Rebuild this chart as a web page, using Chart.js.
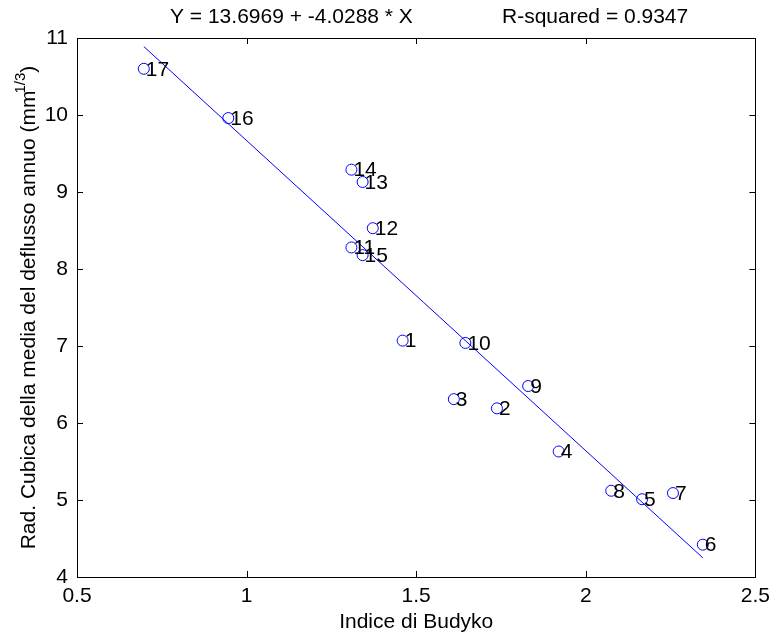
<!DOCTYPE html>
<html>
<head>
<meta charset="utf-8">
<script src="https://cdn.jsdelivr.net/npm/chart.js@4.4.1/dist/chart.umd.min.js"></script>
<style>
  html, body { margin: 0; padding: 0; background: #fff; }
  #wrap { width: 777px; height: 639px; }
</style>
</head>
<body>
<div id="wrap"><canvas id="budykoChart" width="777" height="639"></canvas></div>
<script>
// ---- DATA ----
const stationIds = ["1", "2", "3", "4", "5", "6", "7", "8", "9", "10", "11", "12", "13", "14", "15", "16", "17"];
const budykoIndex = [1.460, 1.738, 1.611, 1.920, 2.166, 2.345, 2.257, 2.075, 1.830, 1.645, 1.309, 1.372, 1.342, 1.309, 1.342, 0.946, 0.697];
const cubeRootRunoff = [7.07, 6.19, 6.31, 5.63, 5.01, 4.42, 5.09, 5.12, 6.48, 7.04, 8.28, 8.53, 9.13, 9.29, 8.18, 9.96, 10.60];

// regression coefficients (from title)
const fitIntercept = 13.6969;
const fitSlope = -4.0288;
const rSquared = 0.9347;

const xTicks = [0.5, 1, 1.5, 2, 2.5];
const yTicks = [4, 5, 6, 7, 8, 9, 10, 11];

const FONT = "'Liberation Sans', Arial, Helvetica, sans-serif";
const FSIZE = 21;
const BLUE = "#0000ff";

const points = budykoIndex.map((x, i) => ({ x: x, y: cubeRootRunoff[i] }));
const xMin = Math.min(...budykoIndex);
const xMax = Math.max(...budykoIndex);
const fitLine = [xMin, xMax].map(x => ({ x: x, y: fitIntercept + fitSlope * x }));

// ---- custom drawing: box, inward ticks, point labels, titles ----
const matlabLook = {
    id: "matlabLook",
    afterDatasetsDraw(chart) {
        const ctx = chart.ctx;
        const a = chart.chartArea;
        const xs = chart.scales.x;
        const ys = chart.scales.y;

        ctx.save();
        // box
        ctx.strokeStyle = "#000";
        ctx.lineWidth = 1;
        ctx.strokeRect(Math.round(a.left) + 0.5, Math.round(a.top) + 0.5,
            Math.round(a.right - a.left), Math.round(a.bottom - a.top));

        // inward ticks
        ctx.beginPath();
        xTicks.forEach(v => {
            const px = Math.round(xs.getPixelForValue(v)) + 0.5;
            ctx.moveTo(px, a.bottom); ctx.lineTo(px, a.bottom - 6);
            ctx.moveTo(px, a.top); ctx.lineTo(px, a.top + 6);
        });
        yTicks.forEach(v => {
            const py = Math.round(ys.getPixelForValue(v)) + 0.5;
            ctx.moveTo(a.left, py); ctx.lineTo(a.left + 6, py);
            ctx.moveTo(a.right, py); ctx.lineTo(a.right - 6, py);
        });
        ctx.stroke();

        // point labels
        const meta = chart.getDatasetMeta(0);
        ctx.fillStyle = "#000";
        ctx.font = FSIZE + "px " + FONT;
        ctx.textAlign = "left";
        ctx.textBaseline = "middle";
        meta.data.forEach((pt, i) => {
            ctx.fillText(stationIds[i], pt.x + 2, pt.y + 1);
        });

        // title line
        ctx.fillText("Y = " + fitIntercept + " + " + fitSlope + " * X", 170, 17);
        ctx.fillText("R-squared = " + rSquared, 502, 17);

        // x title
        ctx.textAlign = "center";
        ctx.fillText("Indice di Budyko", (a.left + a.right) / 2, 622);

        // y title with superscript
        const main = "Rad. Cubica della media del deflusso annuo (mm";
        const sup = "1/3";
        const close = ")";
        const wMain = ctx.measureText(main).width;
        const wClose = ctx.measureText(close).width;
        ctx.font = "15px " + FONT;
        const wSup = ctx.measureText(sup).width;
        const total = wMain + wSup + wClose - 3;
        ctx.translate(29, (a.top + a.bottom) / 2);
        ctx.rotate(-Math.PI / 2);
        ctx.textAlign = "left";
        let sx = -total / 2;
        ctx.font = FSIZE + "px " + FONT;
        ctx.fillText(main, sx, 0);
        sx += wMain - 3;
        ctx.font = "15px " + FONT;
        ctx.fillText(sup, sx, -8);
        sx += wSup;
        ctx.font = FSIZE + "px " + FONT;
        ctx.fillText(close, sx, 0);
        ctx.restore();
    }
};

new Chart(document.getElementById("budykoChart"), {
    type: "scatter",
    data: {
        datasets: [{
            label: "stazioni",
            data: points,
            pointStyle: "circle",
            pointRadius: 5.5,
            pointHoverRadius: 5.5,
            borderColor: BLUE,
            backgroundColor: "rgba(0,0,0,0)",
            borderWidth: 1,
            showLine: false
        }, {
            type: "line",
            label: "fit",
            data: fitLine,
            borderColor: BLUE,
            borderWidth: 1,
            pointRadius: 0,
            fill: false
        }]
    },
    options: {
        responsive: false,
        animation: false,
        events: [],
        layout: { padding: { left: 0, top: 38, right: 18, bottom: 0 } },
        plugins: {
            legend: { display: false },
            title: { display: false },
            tooltip: { enabled: false }
        },
        scales: {
            x: {
                type: "linear",
                min: 0.5, max: 2.5,
                afterBuildTicks: s => { s.ticks = xTicks.map(v => ({ value: v })); },
                afterFit: s => { s.height = 62; },
                grid: { display: false, drawTicks: false },
                border: { display: false },
                ticks: {
                    color: "#000",
                    font: { family: FONT, size: FSIZE },
                    padding: 7,
                    maxRotation: 0,
                    callback: v => String(v)
                }
            },
            y: {
                type: "linear",
                min: 4, max: 11,
                afterBuildTicks: s => { s.ticks = yTicks.map(v => ({ value: v })); },
                afterFit: s => { s.width = 77; },
                grid: { display: false, drawTicks: false },
                border: { display: false },
                ticks: {
                    color: "#000",
                    font: { family: FONT, size: FSIZE },
                    padding: 9,
                    callback: v => String(v)
                }
            }
        }
    },
    plugins: [matlabLook]
});
</script>
</body>
</html>
